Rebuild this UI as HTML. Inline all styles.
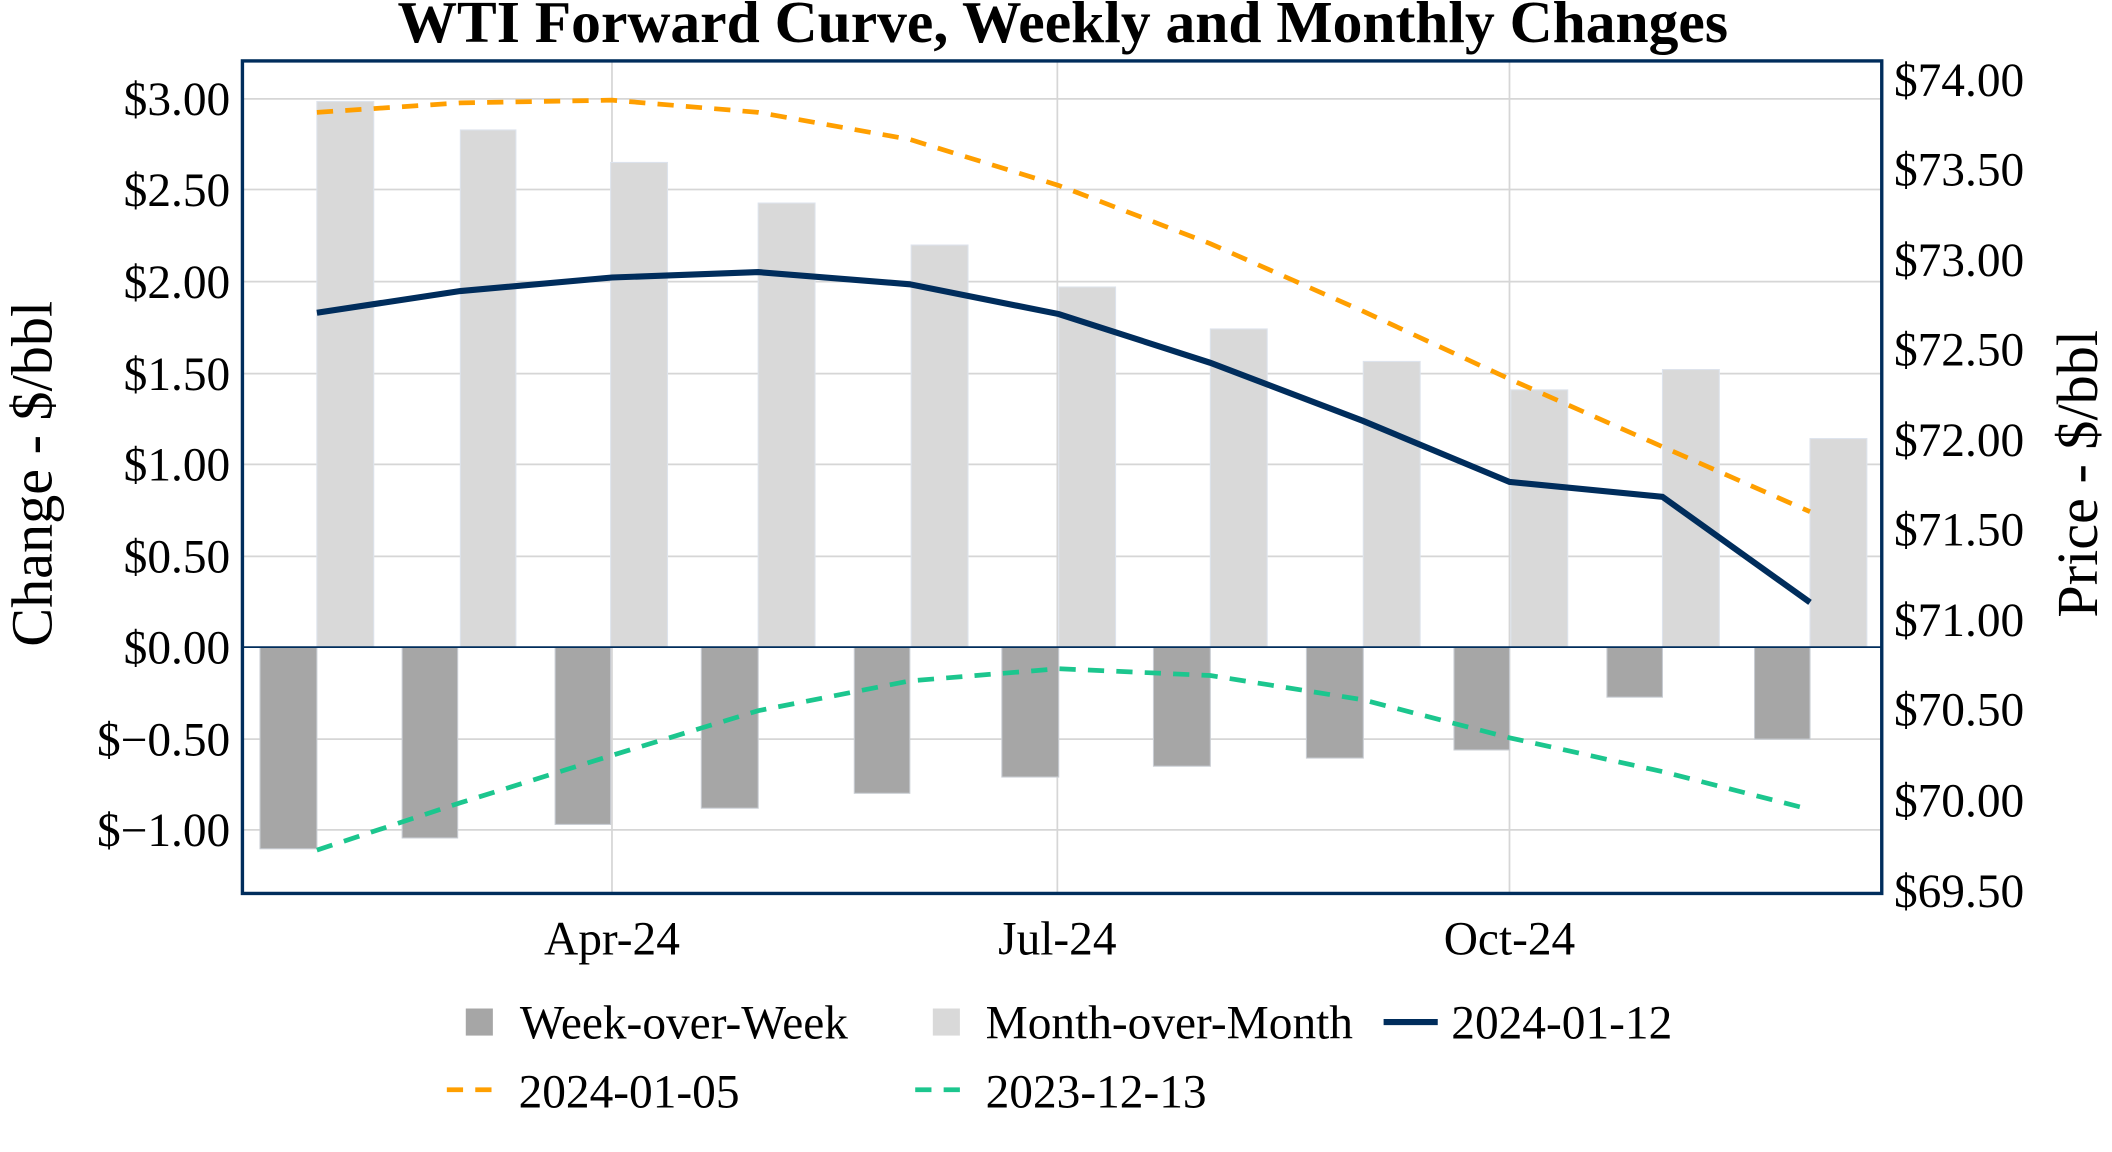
<!DOCTYPE html>
<html><head><meta charset="utf-8"><style>
html,body{margin:0;padding:0;background:#fff;}
svg{display:block;}
text{font-family:"Liberation Serif",serif;fill:#000;}
</style></head><body>
<svg width="2112" height="1152" viewBox="0 0 1560 851" xmlns="http://www.w3.org/2000/svg">
<rect width="1560" height="851" fill="#fff"/>
<g stroke="#d6d6d6" stroke-width="1.3">
<line x1="179" x2="1390" y1="73" y2="73"/><line x1="179" x2="1390" y1="140" y2="140"/>
<line x1="179" x2="1390" y1="208" y2="208"/><line x1="179" x2="1390" y1="276" y2="276"/>
<line x1="179" x2="1390" y1="343" y2="343"/><line x1="179" x2="1390" y1="411" y2="411"/>
<line x1="179" x2="1390" y1="546" y2="546"/><line x1="179" x2="1390" y1="613" y2="613"/>
<line x1="452" x2="452" y1="45" y2="660"/><line x1="781" x2="781" y1="45" y2="660"/><line x1="1115" x2="1115" y1="45" y2="660"/>
</g>
<g fill="#d9d9d9" stroke="#dde3ec" stroke-width="0.8">
<rect x="234" y="75" width="42" height="403"/><rect x="340" y="96" width="41" height="382"/>
<rect x="451" y="120" width="42" height="358"/><rect x="560" y="150" width="42" height="328"/>
<rect x="673" y="181" width="42" height="297"/><rect x="782" y="212" width="42" height="266"/>
<rect x="894" y="243" width="42" height="235"/><rect x="1007" y="267" width="42" height="211"/>
<rect x="1116" y="288" width="42" height="190"/><rect x="1228" y="273" width="42" height="205"/>
<rect x="1337" y="324" width="42" height="154"/>
</g>
<g fill="#a6a6a6" stroke="#c8ccd2" stroke-width="0.8">
<rect x="192" y="478" width="42" height="149"/><rect x="297" y="478" width="41" height="141"/>
<rect x="410" y="478" width="41" height="131"/><rect x="518" y="478" width="42" height="119"/>
<rect x="631" y="478" width="41" height="108"/><rect x="740" y="478" width="42" height="96"/>
<rect x="852" y="478" width="42" height="88"/><rect x="965" y="478" width="42" height="82"/>
<rect x="1074" y="478" width="41" height="76"/><rect x="1187" y="478" width="41" height="37"/>
<rect x="1296" y="478" width="41" height="68"/>
</g>
<line x1="179" x2="1390" y1="478" y2="478" stroke="#002d5c" stroke-width="1.3"/>
<polyline fill="none" stroke="#ff9f00" stroke-width="3.5" stroke-dasharray="12,9" points="234,83 340,76 452,74 560,83 672,103 782,137 894,180 1007,230 1115,280 1228,330 1337,378"/>
<polyline fill="none" stroke="#1cc68e" stroke-width="3.5" stroke-dasharray="12,9" points="234,628 340,593 452,558 560,525 672,503 782,494 894,499 1007,517 1115,545 1228,570 1337,598"/>
<polyline fill="none" stroke="#002d5c" stroke-width="4.5" points="234,231 340,215 452,205 560,201 672,210 782,232 894,268 1007,311 1115,356 1228,367 1337,445"/>
<rect x="179" y="45" width="1211" height="615" fill="none" stroke="#002d5c" stroke-width="2.5"/>
<text x="785" y="31" font-size="44" font-weight="bold" text-anchor="middle">WTI Forward Curve, Weekly and Monthly Changes</text>
<g font-size="35" text-anchor="end">
<text x="170" y="85">$3.00</text><text x="170" y="152">$2.50</text><text x="170" y="220">$2.00</text>
<text x="170" y="288">$1.50</text><text x="170" y="355">$1.00</text><text x="170" y="423">$0.50</text>
<text x="170" y="490">$0.00</text><text x="170" y="558">$−0.50</text><text x="170" y="625">$−1.00</text>
</g>
<g font-size="35">
<text x="1399" y="71">$74.00</text><text x="1399" y="137">$73.50</text><text x="1399" y="204">$73.00</text>
<text x="1399" y="270">$72.50</text><text x="1399" y="337">$72.00</text><text x="1399" y="403">$71.50</text>
<text x="1399" y="470">$71.00</text><text x="1399" y="536">$70.50</text><text x="1399" y="603">$70.00</text>
<text x="1399" y="670">$69.50</text>
</g>
<g font-size="35" text-anchor="middle">
<text x="452" y="705">Apr-24</text><text x="781" y="705">Jul-24</text><text x="1115" y="705">Oct-24</text>
</g>
<text transform="translate(38,350) rotate(-90)" font-size="43" text-anchor="middle">Change - $/bbl</text>
<text transform="translate(1549,350) rotate(-90)" font-size="43" text-anchor="middle">Price - $/bbl</text>
<g font-size="35">
<rect x="344" y="745" width="20" height="20" fill="#a6a6a6"/><text x="384" y="767">Week-over-Week</text>
<rect x="689" y="745" width="20" height="20" fill="#d9d9d9"/><text x="728" y="767">Month-over-Month</text>
<line x1="1022" x2="1062" y1="755" y2="755" stroke="#002d5c" stroke-width="4.5"/><text x="1072" y="767">2024-01-12</text>
<line x1="330" x2="372" y1="805" y2="805" stroke="#ff9f00" stroke-width="3.5" stroke-dasharray="12,9"/><text x="383" y="818">2024-01-05</text>
<line x1="676" x2="718" y1="805" y2="805" stroke="#1cc68e" stroke-width="3.5" stroke-dasharray="12,9"/><text x="728" y="818">2023-12-13</text>
</g>
</svg>
</body></html>
